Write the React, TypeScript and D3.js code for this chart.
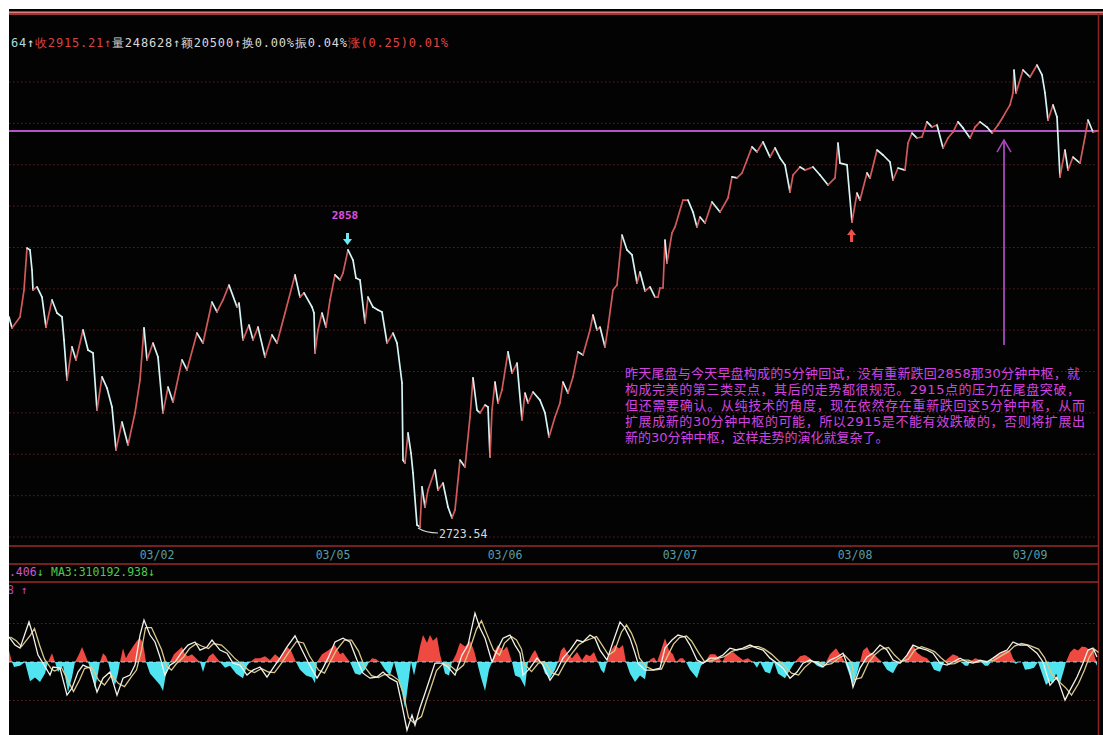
import React from 'react';
import * as d3 from 'd3';

// ---- data (bar index, value) ----
const PRICE: [number, number][] = [
  [0,2825.1],[3,2819.8],[11,2825.1],[15,2838.1],[18,2858.4],[21,2857.5],[23,2847.8],[24,2838.1],[28,2839.6],[33,2834.7],
  [37,2820.2],[43,2833.3],[48,2827.0],[53,2825.1],[55,2814.0],[58,2794.6],[63,2810.6],[67,2804.3],[74,2818.8],[79,2809.1],
  [84,2807.7],[88,2780.1],[93,2796.1],[98,2790.7],[103,2781.6],[107,2760.8],[113,2774.3],[119,2763.2],[126,2778.7],[131,2794.6],
  [135,2819.8],[138,2804.3],[144,2812.5],[149,2805.7],[154,2778.7],[159,2791.2],[164,2784.0],[173,2804.3],[178,2799.5],[188,2817.3],
  [194,2812.5],[203,2832.3],[208,2827.5],[214,2833.3],[220,2840.5],[228,2829.9],[230,2831.8],[234,2814.0],[240,2821.2],[244,2814.0],
  [249,2820.2],[256,2805.7],[263,2816.4],[268,2812.5],[276,2827.0],[286,2845.4],[291,2834.7],[295,2836.7],[303,2829.9],[305,2827.0],
  [306,2807.7],[309,2818.8],[313,2827.0],[317,2820.2],[321,2833.3],[326,2845.4],[331,2843.0],[334,2846.3],[339,2857.5],[344,2852.6],
  [347,2843.9],[351,2843.0],[356,2822.2],[359,2834.7],[364,2829.9],[369,2828.5],[373,2827.5],[378,2812.5],[384,2817.3],[388,2812.5],
  [393,2793.2],[394,2755.9],[396,2754.5],[399,2769.0],[402,2759.3],[404,2749.7],[408,2724.5],[411,2723.54],[413,2742.9],[416,2733.2],
  [419,2741.4],[426,2751.1],[429,2741.4],[434,2744.8],[439,2733.2],[443,2727.9],[446,2731.8],[451,2755.9],[456,2752.6],[461,2776.7],
  [464,2795.6],[468,2780.1],[471,2778.7],[476,2782.5],[479,2781.6],[481,2757.4],[483,2780.1],[486,2793.6],[489,2783.5],[493,2789.8],
  [499,2808.2],[503,2798.0],[508,2802.8],[513,2775.3],[516,2788.3],[519,2783.5],[524,2788.8],[531,2784.9],[536,2778.7],[540,2767.1],
  [546,2776.7],[551,2783.5],[554,2793.6],[559,2788.3],[564,2796.1],[569,2808.2],[574,2806.7],[581,2818.8],[584,2826.0],[588,2818.8],
  [591,2820.2],[596,2810.6],[599,2820.2],[604,2838.1],[608,2840.5],[613,2864.7],[618,2857.5],[623,2855.1],[628,2841.5],[631,2846.8],
  [636,2837.6],[641,2839.6],[646,2834.7],[649,2834.7],[651,2839.1],[654,2839.1],[656,2862.3],[658,2851.2],[663,2865.7],[666,2868.6],
  [674,2881.6],[679,2881.6],[684,2875.8],[688,2868.6],[691,2873.4],[696,2870.5],[703,2880.7],[711,2875.8],[719,2882.6],[723,2892.8],
  [728,2892.3],[733,2894.7],[738,2901.0],[743,2907.3],[748,2904.9],[754,2909.7],[761,2902.4],[766,2906.8],[771,2902.0],[776,2898.6],
  [781,2885.5],[784,2893.7],[791,2897.6],[796,2896.1],[804,2897.6],[811,2893.7],[819,2888.9],[826,2892.3],[829,2909.2],[831,2899.5],
  [838,2898.6],[843,2871.0],[848,2885.0],[851,2881.6],[858,2894.7],[861,2892.3],[868,2905.8],[874,2903.4],[881,2900.0],[884,2891.3],
  [889,2897.1],[896,2896.1],[899,2909.2],[903,2914.0],[908,2911.6],[913,2912.1],[918,2919.4],[923,2916.9],[928,2917.9],[934,2906.8],
  [939,2911.6],[944,2914.5],[949,2919.4],[954,2916.5],[961,2911.6],[966,2916.9],[971,2919.4],[978,2916.9],[983,2914.0],[989,2917.9],
  [994,2921.8],[1001,2927.6],[1004,2933.4],[1005,2944.5],[1007,2933.4],[1014,2944.5],[1021,2941.1],[1028,2946.9],[1033,2942.1],[1036,2933.4],
  [1039,2920.3],[1044,2927.6],[1048,2921.8],[1051,2892.8],[1056,2905.8],[1059,2896.1],[1064,2902.4],[1071,2899.5],[1076,2912.1],[1079,2920.3],
  [1084,2914.5],[1089,2915.2],
];

const OSC_LINE: [number, number][] = [
  [0,0.65],[6,0.44],[11,0.36],[20,1.04],[24,0.70],[29,0.18],[34,-0.03],[41,-0.34],[44,-0.13],[51,-0.16],[58,-0.86],[63,-0.68],
  [69,-0.26],[74,-0.08],[81,-0.16],[88,-0.78],[94,-0.42],[101,-0.26],[108,-0.86],[114,-0.42],[121,-0.34],[126,-0.08],[131,0.70],
  [135,1.09],[141,0.70],[146,0.52],[151,0.13],[156,-0.34],[161,-0.08],[166,0],[173,0.26],[179,0.44],[186,0.52],[191,0.31],[198,0.39],
  [203,0.57],[211,0.31],[218,0.23],[224,-0.03],[231,-0.08],[238,-0.34],[244,-0.21],[251,-0.13],[258,-0.39],[264,-0.16],[271,0.10],
  [278,0.39],[286,0.68],[293,0.31],[299,0],[308,-0.42],[314,-0.16],[319,0.10],[326,0.52],[334,0.62],[341,0.52],[348,0.05],[354,-0.29],
  [361,-0.42],[368,-0.39],[374,-0.26],[381,-0.42],[388,-0.52],[393,-1.12],[398,-1.77],[403,-1.38],[406,-1.64],[411,-1.19],[416,-0.81],
  [421,-0.42],[426,-0.03],[433,-0.03],[439,-0.13],[446,-0.34],[453,0.18],[459,0.44],[466,1.27],[471,0.88],[476,0.62],[483,0],[489,0.36],
  [494,0.62],[501,0.70],[506,0.44],[511,0.23],[514,-0.34],[521,-0.16],[528,0.10],[534,-0.08],[541,-0.47],[548,-0.21],[554,0.10],
  [561,0.31],[568,0.57],[574,0.52],[581,0.70],[586,0.62],[591,0.31],[598,0.05],[604,0.52],[611,1.04],[616,0.88],[621,0.62],[626,0.23],
  [629,-0.03],[636,-0.21],[643,-0.21],[651,-0.16],[656,0.36],[663,0.57],[669,0.70],[676,0.65],[681,0.44],[688,0.05],[694,-0.03],
  [701,0.10],[708,0.10],[714,0.18],[721,0.36],[728,0.31],[734,0.36],[741,0.44],[748,0.36],[754,0.31],[761,0.10],[768,-0.03],[774,-0.16],
  [781,-0.42],[788,-0.26],[794,-0.03],[801,0.05],[808,-0.03],[814,-0.13],[821,0.05],[828,0.13],[834,0.23],[841,-0.26],[844,-0.65],
  [851,-0.16],[858,0.13],[864,0.23],[871,0.44],[878,0.31],[884,0.05],[891,-0.03],[898,0.18],[904,0.44],[911,0.36],[918,0.31],[924,0.23],
  [931,-0.03],[938,-0.08],[944,0],[951,0.10],[958,0],[964,-0.03],[971,0.05],[978,0],[984,0.10],[991,0.23],[998,0.31],[1004,0.52],
  [1011,0.44],[1018,0.44],[1028,0.23],[1034,0],[1041,-0.60],[1048,-0.39],[1056,-0.99],[1061,-0.73],[1068,-0.39],[1074,-0.03],
  [1079,0.31],[1084,0.36],[1088,0.13],
];

const OSC_HIST: [number, number][] = [
  [0,0.3],[3,0],[5,-0.13],[11,-0.1],[16,0],[21,-0.5],[26,-0.4],[31,-0.52],[36,-0.3],[39,0],[43,0.23],[46,0],[49,-0.26],[54,-0.1],
  [59,-0.78],[63,-0.4],[66,0],[70,0.2],[73,0.39],[76,0.2],[79,0],[83,-0.3],[86,-0.68],[89,-0.3],[91,0],[94,0.23],[97,0.15],[99,0],
  [103,-0.4],[106,-0.6],[109,-0.3],[111,0],[114,0.36],[117,0.1],[119,0.2],[124,0.4],[128,0.55],[131,0.62],[134,0.5],[137,0],
  [141,-0.3],[146,-0.45],[151,-0.6],[154,-0.75],[157,-0.3],[161,0],[165,0.2],[169,0.3],[173,0.39],[176,0.2],[179,0.15],[183,0.2],
  [187,0.1],[191,0],[194,-0.26],[197,0],[200,0.15],[204,0.23],[208,0.1],[211,0],[216,-0.15],[221,-0.1],[227,-0.3],[234,-0.42],
  [238,-0.1],[241,0],[246,0.1],[251,0.1],[256,0.15],[261,0.05],[266,0.2],[271,0.1],[275,0.25],[278,0.39],[282,0.3],[287,0],
  [291,-0.2],[297,-0.35],[303,-0.4],[306,-0.55],[308,0],[313,0.2],[319,0.3],[326,0.44],[331,0.2],[334,0.25],[338,0.1],[341,0],
  [346,-0.3],[351,-0.34],[356,-0.2],[360,0],[363,0.1],[367,0.08],[371,0],[376,-0.2],[381,-0.35],[385,0],[389,-0.4],[393,-0.8],
  [396,-1.2],[399,-0.6],[402,0],[405,-0.35],[408,0],[411,0.4],[414,0.7],[418,0.5],[421,0.7],[424,0.55],[428,0.65],[431,0.2],[433,0],
  [436,-0.3],[440,-0.35],[443,0],[447,0.2],[451,0.5],[456,0.4],[461,0.55],[465,0.3],[468,0],[472,-0.4],[476,-0.75],[480,-0.2],[483,0],
  [486,0.3],[489,0.44],[494,0.3],[498,0.4],[503,0],[506,-0.35],[511,-0.4],[516,-0.65],[519,0],[523,0.2],[526,0.31],[530,0.1],[532,0],
  [536,-0.3],[541,-0.42],[546,-0.2],[549,0],[552,0.3],[555,0.39],[559,0.2],[563,0.1],[568,0.26],[573,0.05],[577,0.2],[581,0.15],
  [585,0.26],[589,0],[592,-0.2],[595,-0.29],[598,0],[602,0.3],[606,0.44],[610,0.35],[614,0.44],[617,0],[621,-0.3],[626,-0.52],
  [631,-0.35],[636,-0.45],[639,0],[642,0.08],[645,0.12],[648,0],[652,0.3],[656,0.62],[660,0.3],[664,0.2],[667,0],[671,0.1],[674,0.1],
  [677,0],[681,-0.2],[688,-0.42],[692,-0.1],[696,0],[701,0.2],[706,0.2],[710,0.1],[713,0],[718,0.2],[724,0.26],[729,0.15],[734,0.05],
  [739,0.1],[744,0],[748,-0.15],[751,0],[756,-0.25],[761,-0.3],[765,0],[769,-0.3],[776,-0.42],[781,-0.2],[786,0],[791,0.15],[796,0.18],
  [801,0.1],[804,0],[808,-0.1],[813,-0.15],[817,0],[821,0.2],[827,0.36],[831,0.2],[836,0],[840,-0.3],[844,-0.6],[848,-0.3],[851,0],
  [854,0.3],[858,0.39],[861,0.25],[865,0.2],[869,0.1],[873,0],[878,-0.2],[884,-0.29],[888,-0.1],[891,0],[896,0.1],[900,0.3],[904,0.44],
  [908,0.25],[913,0.15],[918,0.1],[921,0],[925,-0.2],[931,-0.25],[935,0],[939,0.1],[944,0.2],[949,0.15],[952,0],[956,-0.1],[959,-0.1],
  [961,0],[966,0.1],[969,0.08],[972,0],[976,-0.1],[979,-0.1],[982,0],[986,0.15],[991,0.2],[996,0.3],[1001,0.3],[1004,0.1],[1007,-0.05],
  [1009,0],[1013,0],[1016,-0.2],[1021,-0.18],[1025,-0.15],[1029,0],[1033,-0.3],[1037,-0.6],[1041,-0.5],[1044,-0.55],[1047,-0.3],
  [1051,-0.55],[1055,-0.2],[1057,0],[1061,0.25],[1065,0.35],[1069,0.3],[1073,0.4],[1077,0.38],[1081,0.3],[1084,0.35],[1086,0.1],[1088,-0.1],
];

const DAY_LABELS = ['03/02', '03/05', '03/06', '03/07', '03/08', '03/09'];
const DAY_BARS = [148, 324, 496, 671, 846, 1021];
const GRID_PRICES = [2938.7, 2918.7, 2898.7, 2878.7, 2858.7, 2838.7, 2818.7, 2798.7, 2778.7, 2758.7, 2738.7, 2718.7];
const OSC_GRID = [1, -1];
const RESIST_PRICE = 2915;
const LOW_BAR = 411, LOW_PRICE = 2723.54, LOW_LABEL = '2723.54';
const PEAK_BAR = 339, PEAK_PRICE = 2857.5, PEAK_LABEL = '2858';
const PULLBACK_BAR = 843, PULLBACK_PRICE = 2871.0;
const ARROW_BAR = 995, ARROW_TOP = 2910.6, ARROW_BOTTOM = 2811.5;

const HEADER_PARTS = [
  { t: '64', c: '#a8dcdc' },
  { t: '↑', c: '#e8e8e8' },
  { t: '收2915.21↑', c: '#d84444' },
  { t: '量248628↑额20500↑换0.00%振0.04%', c: '#d8d8d8' },
  { t: '涨(0.25)0.01%', c: '#e04444' },
];

const NOTE_LINES = [
  '昨天尾盘与今天早盘构成的5分钟回试，没有重新跌回2858那30分钟中枢，就',
  '构成完美的第三类买点，其后的走势都很规范。2915点的压力在尾盘突破，',
  '但还需要确认。从纯技术的角度，现在依然存在重新跌回这5分钟中枢，从而',
  '扩展成新的30分钟中枢的可能，所以2915是不能有效跌破的，否则将扩展出',
  '新的30分钟中枢，这样走势的演化就复杂了。',
];
const NOTE_WIDTHS = [455, 455, 460, 460, 0];

const MONO = '"DejaVu Sans Mono", "Liberation Mono", monospace';
const NOTE_FONT = '"DejaVu Sans", "Noto Sans CJK SC", sans-serif';

export default function App() {
  const W = 1103, H = 735;
  const x = d3.scaleLinear().domain([0, 1089]).range([9, 1098]);
  const y = d3.scaleLinear().domain([LOW_PRICE, RESIST_PRICE]).range([527, 131]);
  const yo = d3.scaleLinear().domain([-1, 1]).range([700.5, 623.5]);

  const segs = d3.pairs(PRICE);

  const areaPos = d3.area<[number, number]>()
    .x(d => x(d[0])).y0(yo(0)).y1(d => yo(Math.max(0, d[1])));
  const areaNeg = d3.area<[number, number]>()
    .x(d => x(d[0])).y0(yo(0)).y1(d => yo(Math.min(0, d[1])));
  const oscLine = d3.line<[number, number]>().x(d => x(d[0])).y(d => yo(d[1]));
  const ma: [number, number][] = OSC_LINE.map((d, i) => {
    const s = OSC_LINE.slice(Math.max(0, i - 1), i + 1);
    return [d[0] + 1.5, d3.mean(s, v => v[1]) as number];
  });

  const peakX = x(PEAK_BAR), peakY = y(PEAK_PRICE);
  const pbX = x(PULLBACK_BAR), pbY = y(PULLBACK_PRICE);
  const lowX = x(LOW_BAR), lowY = y(LOW_PRICE);
  const arX = x(ARROW_BAR), arTop = y(ARROW_TOP), arBot = y(ARROW_BOTTOM);

  return (
    <svg width={W} height={H} style={{ position: 'absolute', left: 0, top: 0, display: 'block' }}>
      <defs>
        <clipPath id="plot"><rect x={9} y={9} width={W - 9} height={H - 9} /></clipPath>
      </defs>
      <rect x={0} y={0} width={W} height={H} fill="#ffffff" />
      <rect x={9} y={9} width={W - 9} height={H - 9} fill="#030303" />
      <g clipPath="url(#plot)">
        {/* top border */}
        <rect x={9} y={11} width={W} height={4} fill="#a33636" />
        <line x1={9} x2={W} y1={12.5} y2={12.5} stroke="#d88080" strokeWidth={1} />
        <line x1={1098.5} x2={1098.5} y1={13} y2={H} stroke="#8c2424" strokeWidth={1.5} />

        {/* header */}
        <text x={11} y={47} fontFamily={MONO} fontSize={12} textLength={437} lengthAdjust="spacing">
          {HEADER_PARTS.map((p, i) => <tspan key={i} fill={p.c}>{p.t}</tspan>)}
        </text>

        {/* grid */}
        {GRID_PRICES.map((p, i) => (
          <line key={i} x1={9} x2={1097} y1={y(p)} y2={y(p)} stroke="#6a1a1a" strokeWidth={1} strokeDasharray="1.5 2.5" />
        ))}

        {/* resistance line */}
        <line x1={9} x2={1098} y1={y(RESIST_PRICE)} y2={y(RESIST_PRICE)} stroke="#b455c4" strokeWidth={2} />

        {/* price line */}
        {segs.map(([a, b], i) => (
          <line key={i} x1={x(a[0])} y1={y(a[1])} x2={x(b[0])} y2={y(b[1])}
            stroke={b[1] >= a[1] ? '#d25a5a' : '#d6f4f4'} strokeWidth={1.7} strokeLinecap="round" />
        ))}

        {/* peak annotation */}
        <text x={peakX - 3} y={peakY - 31} fill="#e050e0" fontFamily={MONO} fontSize={11} fontWeight="bold" textAnchor="middle">{PEAK_LABEL}</text>
        <path d={`M${peakX - 2},${peakY - 17} L${peakX + 1},${peakY - 17} L${peakX + 1},${peakY - 11} L${peakX + 4},${peakY - 11} L${peakX - 0.5},${peakY - 5} L${peakX - 5},${peakY - 11} L${peakX - 2},${peakY - 11} Z`} fill="#70e8f0" />

        {/* pullback arrow */}
        <path d={`M${pbX - 0.5},${pbY + 7} L${pbX + 4},${pbY + 13} L${pbX + 1},${pbY + 13} L${pbX + 1},${pbY + 20} L${pbX - 2},${pbY + 20} L${pbX - 2},${pbY + 13} L${pbX - 5},${pbY + 13} Z`} fill="#f05048" />

        {/* low label */}
        <path d={`M${lowX - 2},${lowY + 1} Q${lowX + 6},${lowY + 6} ${lowX + 18},${lowY + 6}`} fill="none" stroke="#d8d8d8" strokeWidth={1.2} />
        <text x={lowX + 19} y={lowY + 11} fill="#d8d8d8" fontFamily={MONO} fontSize={11.5}>{LOW_LABEL}</text>

        {/* vertical arrow */}
        <line x1={arX} x2={arX} y1={arTop} y2={arBot} stroke="#a848bc" strokeWidth={1.8} />
        <path d={`M${arX - 7},${arTop + 12} L${arX},${arTop} L${arX + 7},${arTop + 12}`} fill="none" stroke="#a848bc" strokeWidth={1.5} />

        {/* annotation */}
        {NOTE_LINES.map((t, i) => (
          <text key={i} x={625} y={378 + i * 16} fill="#d244e0" fontFamily={NOTE_FONT} fontSize={13}
            {...(NOTE_WIDTHS[i] ? { textLength: NOTE_WIDTHS[i], lengthAdjust: 'spacing' } : {})}>{t}</text>
        ))}

        {/* separators and date axis */}
        {[546, 564, 582].map(v => (
          <line key={v} x1={9} x2={1098} y1={v} y2={v} stroke="#9c2a2a" strokeWidth={1.5} />
        ))}
        {DAY_LABELS.map((d, i) => (
          <text key={d} x={x(DAY_BARS[i])} y={559} fill="#5a9ea8" fontFamily={MONO} fontSize={11.5} textAnchor="middle">{d}</text>
        ))}

        {/* indicator labels */}
        <text x={2} y={576} fontFamily={MONO} fontSize={11.5}>
          <tspan fill="#d055d0">0.406</tspan><tspan fill="#50c850">↓</tspan>
        </text>
        <text x={51} y={576} fontFamily={MONO} fontSize={11.5} fill="#50c850">MA3:310192.938↓</text>
        <text x={0} y={594} fontFamily={MONO} fontSize={11.5} fill="#c040c8">08 ↑</text>

        {/* indicator panel */}
        {OSC_GRID.map(v => (
          <line key={v} x1={9} x2={1097} y1={yo(v)} y2={yo(v)} stroke="#6a1a1a" strokeWidth={1} strokeDasharray="1.5 2.5" />
        ))}
        <path d={areaPos(OSC_HIST) || ''} fill="#ee4a42" />
        <path d={areaNeg(OSC_HIST) || ''} fill="#50e4f0" />
        <line x1={9} x2={1097} y1={yo(0)} y2={yo(0)} stroke="#c8e4ee" strokeWidth={1} strokeDasharray="4 3" opacity={0.8} />
        <path d={oscLine(ma) || ''} fill="none" stroke="#d8c88c" strokeWidth={1.3} />
        <path d={oscLine(OSC_LINE) || ''} fill="none" stroke="#f2f2ea" strokeWidth={1.3} />
      </g>
    </svg>
  );
}
